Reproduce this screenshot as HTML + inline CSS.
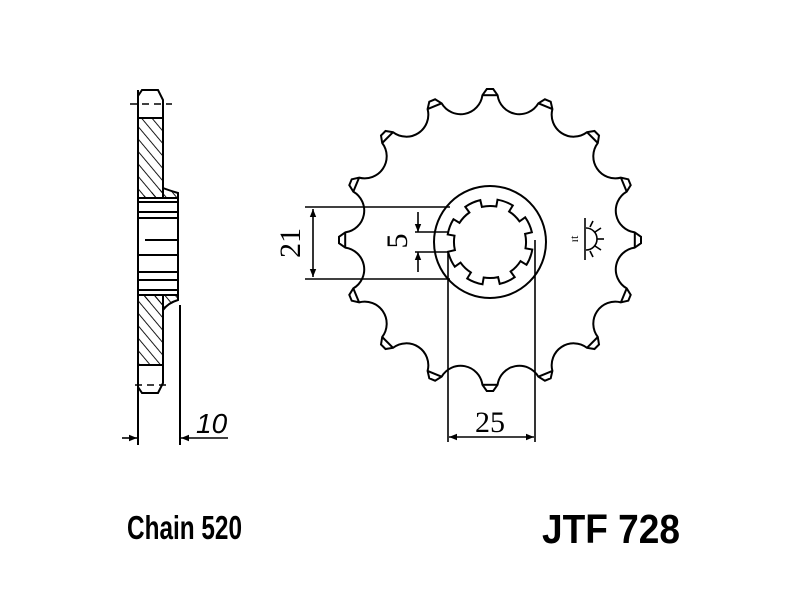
<!DOCTYPE html>
<html><head><meta charset="utf-8"><style>
html,body{margin:0;padding:0;background:#fff;width:800px;height:600px;overflow:hidden}
svg{display:block}
</style></head><body>
<svg id="s" width="800" height="600" viewBox="0 0 800 600" xmlns="http://www.w3.org/2000/svg">
<defs>
<pattern id="h" patternUnits="userSpaceOnUse" width="8" height="8" patternTransform="rotate(-40)">
<line x1="0" y1="0" x2="0" y2="8" stroke="#000" stroke-width="1.8"/>
</pattern>
<marker id="a" viewBox="0 0 10 10" refX="10" refY="5" markerWidth="8" markerHeight="8" orient="auto-start-reverse" markerUnits="userSpaceOnUse"><path d="M0,1 L10,5 L0,9 z" fill="#000"/></marker>
</defs>
<g fill="none" stroke="#000" stroke-width="2">
<path id="gear" d=""/>
<g id="tips"></g>
<circle cx="490" cy="242" r="56"/>
<path id="spl" d=""/>
</g>
<g stroke="#000" stroke-width="1.6" fill="none">
<line x1="305" y1="207" x2="450" y2="207"/>
<line x1="305" y1="279" x2="450" y2="279"/>
<line x1="313" y1="209" x2="313" y2="277" marker-start="url(#a)" marker-end="url(#a)"/>
<line x1="415" y1="232" x2="448" y2="232"/>
<line x1="415" y1="252" x2="448" y2="252"/>
<line x1="418" y1="212" x2="418" y2="232" marker-end="url(#a)"/>
<line x1="418" y1="272" x2="418" y2="252" marker-end="url(#a)"/>
<line x1="448" y1="252" x2="448" y2="442"/>
<line x1="535" y1="240" x2="535" y2="442"/>
<line x1="449" y1="437" x2="534" y2="437" marker-start="url(#a)" marker-end="url(#a)"/>
<line x1="585" y1="218" x2="585" y2="260"/>
<path d="M586,228 A10,10 0 0 1 586,250"/>
<line x1="595" y1="232" x2="601" y2="228"/><line x1="597" y1="239" x2="604" y2="239"/><line x1="595" y1="246" x2="601" y2="250"/><line x1="590" y1="227" x2="593" y2="221"/><line x1="590" y1="251" x2="593" y2="257"/>
</g>
<text x="578" y="239" font-family="Liberation Serif,serif" font-size="12" transform="rotate(-90 578 239)" text-anchor="middle">ɪt</text>
<g font-family="Liberation Serif,serif" font-size="30" fill="#000">
<text x="300" y="243" transform="rotate(-90 300 243)" text-anchor="middle">21</text>
<text x="407" y="241" transform="rotate(-90 407 241)" text-anchor="middle">5</text>
<text x="490" y="432" text-anchor="middle">25</text>
</g>
<g stroke="#000" stroke-width="2">
<path d="M142,90 L158,90 L163,100 L163,118 L138,118 L138,96 Z" fill="none"/>
<rect x="138" y="118" width="25" height="80" fill="url(#h)"/>
<path d="M163,188 Q168,190 178,193 L178,198 L138,198" fill="url(#h)"/>
<rect x="138" y="295" width="25" height="70" fill="url(#h)"/>
<path d="M138,295 L178,295 L178,300 Q168,303 163,310" fill="url(#h)"/>
<path d="M138,365 L163,365 L163,383 L158,393 L142,393 L138,387 Z" fill="none"/>
<line x1="138" y1="90" x2="138" y2="445"/>
<line x1="163" y1="118" x2="163" y2="190"/>
<line x1="178" y1="193" x2="178" y2="300"/>
<line x1="180" y1="305" x2="180" y2="445"/>
<line x1="138" y1="202" x2="178" y2="202"/><line x1="138" y1="212" x2="178" y2="212"/><line x1="138" y1="218" x2="178" y2="218"/>
<line x1="145" y1="240" x2="178" y2="240"/>
<line x1="138" y1="255" x2="178" y2="255"/><line x1="138" y1="272" x2="178" y2="272"/><line x1="138" y1="280" x2="178" y2="280"/><line x1="138" y1="290" x2="178" y2="290"/>
</g>
<g stroke="#000" stroke-width="1.5" stroke-dasharray="7,5">
<line x1="130" y1="104" x2="172" y2="104"/>
<line x1="135" y1="385" x2="170" y2="385"/>
</g>
<g stroke="#000" stroke-width="1.6">
<line x1="122" y1="438" x2="137" y2="438" marker-end="url(#a)"/>
<line x1="228" y1="438" x2="181" y2="438" marker-end="url(#a)"/>
</g>
<text x="196" y="433" font-family="Liberation Sans,sans-serif" font-style="italic" font-size="28">10</text>
<text x="127" y="539" font-family="Liberation Sans,sans-serif" font-weight="bold" font-size="33" textLength="115" lengthAdjust="spacingAndGlyphs">Chain 520</text>
<text x="542" y="543" font-family="Liberation Sans,sans-serif" font-weight="bold" font-size="41" textLength="138" lengthAdjust="spacingAndGlyphs">JTF 728</text>
</svg>
<script>
var cx=490,cy=240,N=16,d="",t="";
function P(r,deg){var a=deg*Math.PI/180;return [(cx+r*Math.sin(a)).toFixed(1),(cy-r*Math.cos(a)).toFixed(1)];}
for(var i=0;i<N;i++){
 var th=i*22.5;
 var p1=P(151,th-1.2),p2=P(151,th+1.2),p3=P(145,th+3),p4=P(145,th+19.5);
 d+=(i==0?"M":"L")+p1+" L"+p2+" L"+p3+" A22,22 0 0 0 "+p4+" ";
 var q1=P(145,th-3),q2=P(145,th+3);
 t+='<line x1="'+q1[0]+'" y1="'+q1[1]+'" x2="'+q2[0]+'" y2="'+q2[1]+'"/>';
}
d+="Z";
document.getElementById("gear").setAttribute("d",d);
document.getElementById("tips").innerHTML=t;
cy=242;var s="";
for(var i=0;i<8;i++){
 var b=i*45+10;
 var a1=P(43,b),a2=P(43,b+22),a3=P(36,b+22),a4=P(36,b+45);
 s+=(i==0?"M":"L")+a1+" A43,43 0 0 1 "+a2+" L"+a3+" A36,36 0 0 1 "+a4+" ";
}
s+="Z";
document.getElementById("spl").setAttribute("d",s);
</script>
</body></html>
